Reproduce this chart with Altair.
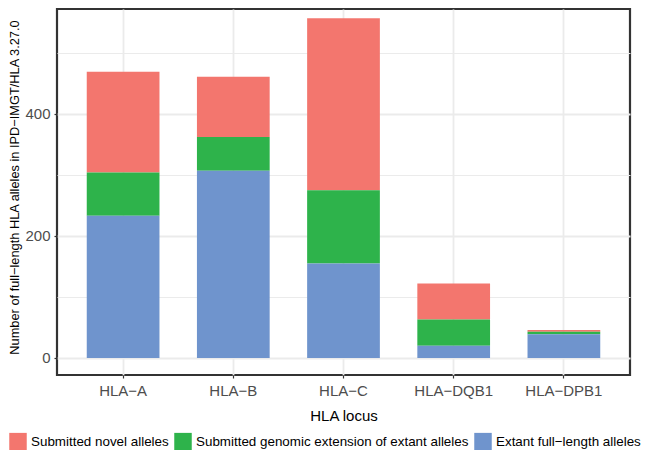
import altair as alt
import pandas as pd

loci = ["HLA−A", "HLA−B", "HLA−C", "HLA−DQB1", "HLA−DPB1"]
categories = [
    "Submitted novel alleles",
    "Submitted genomic extension of extant alleles",
    "Extant full−length alleles",
]
novel = [165, 99, 282, 59, 3]
genomic = [71, 55, 120, 43, 4]
extant = [233, 307, 155, 20, 39]
colors = ["#F3766E", "#2EB34B", "#6F94CD"]
stack_rank = [2, 1, 0]  # bottom-to-top stacking: extant, genomic, novel

rows = []
for series, cat, rank in zip([novel, genomic, extant], categories, stack_rank):
    for locus, v in zip(loci, series):
        rows.append({"locus": locus, "category": cat, "count": v, "rank": rank})
df = pd.DataFrame(rows)

FONT = "Liberation Sans"

chart = (
    alt.Chart(df)
    .mark_bar(strokeWidth=0)
    .encode(
        x=alt.X(
            "locus:N",
            sort=loci,
            scale=alt.Scale(paddingInner=0.34, paddingOuter=0.27),
            axis=alt.Axis(
                title="HLA locus",
                labelAngle=0,
                grid=True,
                bandPosition=0.5,
                gridColor="#EBEBEB",
                gridWidth=1.8,
                tickSize=3,
                labelPadding=5,
                titlePadding=10,
            ),
        ),
        y=alt.Y(
            "count:Q",
            stack="zero",
            scale=alt.Scale(domain=[-27.9, 572], nice=False, zero=False),
            axis=alt.Axis(
                title="Number of full−length HLA alleles in IPD−IMGT/HLA 3.27.0",
                values=[0, 100, 200, 300, 400, 500],
                labelExpr="datum.value % 200 === 0 ? datum.label : ''",
                grid=True,
                gridColor="#EBEBEB",
                gridWidth={"condition": {"test": "datum.value % 200 === 0", "value": 1.8}, "value": 1.0},
                tickOpacity={"condition": {"test": "datum.value % 200 === 0", "value": 1}, "value": 0},
                tickSize=3,
                labelPadding=4,
                titleFontSize=12.8,
                titleAngle=270,
                titleBaseline="alphabetic",
                titleAlign="center",
                titleX=-38.5,
                titleY=178,
            ),
        ),
        color=alt.Color(
            "category:N",
            scale=alt.Scale(domain=categories, range=colors),
            legend=alt.Legend(
                title=None,
                orient="none",
                direction="horizontal",
                legendX=-48,
                legendY=423.5,
                symbolType="square",
                symbolSize=306,
                symbolStrokeWidth=0,
                symbolOpacity=1,
                labelFontSize=13.4,
                labelFont=FONT,
                labelColor="black",
                labelLimit=400,
                labelOffset=4,
                columnPadding=5,
            ),
        ),
        order=alt.Order("rank:Q", sort="ascending"),
    )
    .properties(
        width=573,
        height=366,
        padding={"left": 49, "top": 1, "right": 15, "bottom": 75},
        autosize=alt.AutoSizeParams(type="none"),
        background="white",
    )
    .configure_view(stroke="#333333", strokeWidth=2.2)
    .configure_axis(
        domain=False,
        tickColor="#333333",
        tickWidth=1.2,
        labelColor="#4D4D4D",
        labelFont=FONT,
        labelFontSize=15,
        titleFont=FONT,
        titleFontSize=15,
        titleFontWeight="normal",
        titleColor="black",
    )
)

chart.save("out.html", embed_options={"renderer": "svg", "actions": False})
